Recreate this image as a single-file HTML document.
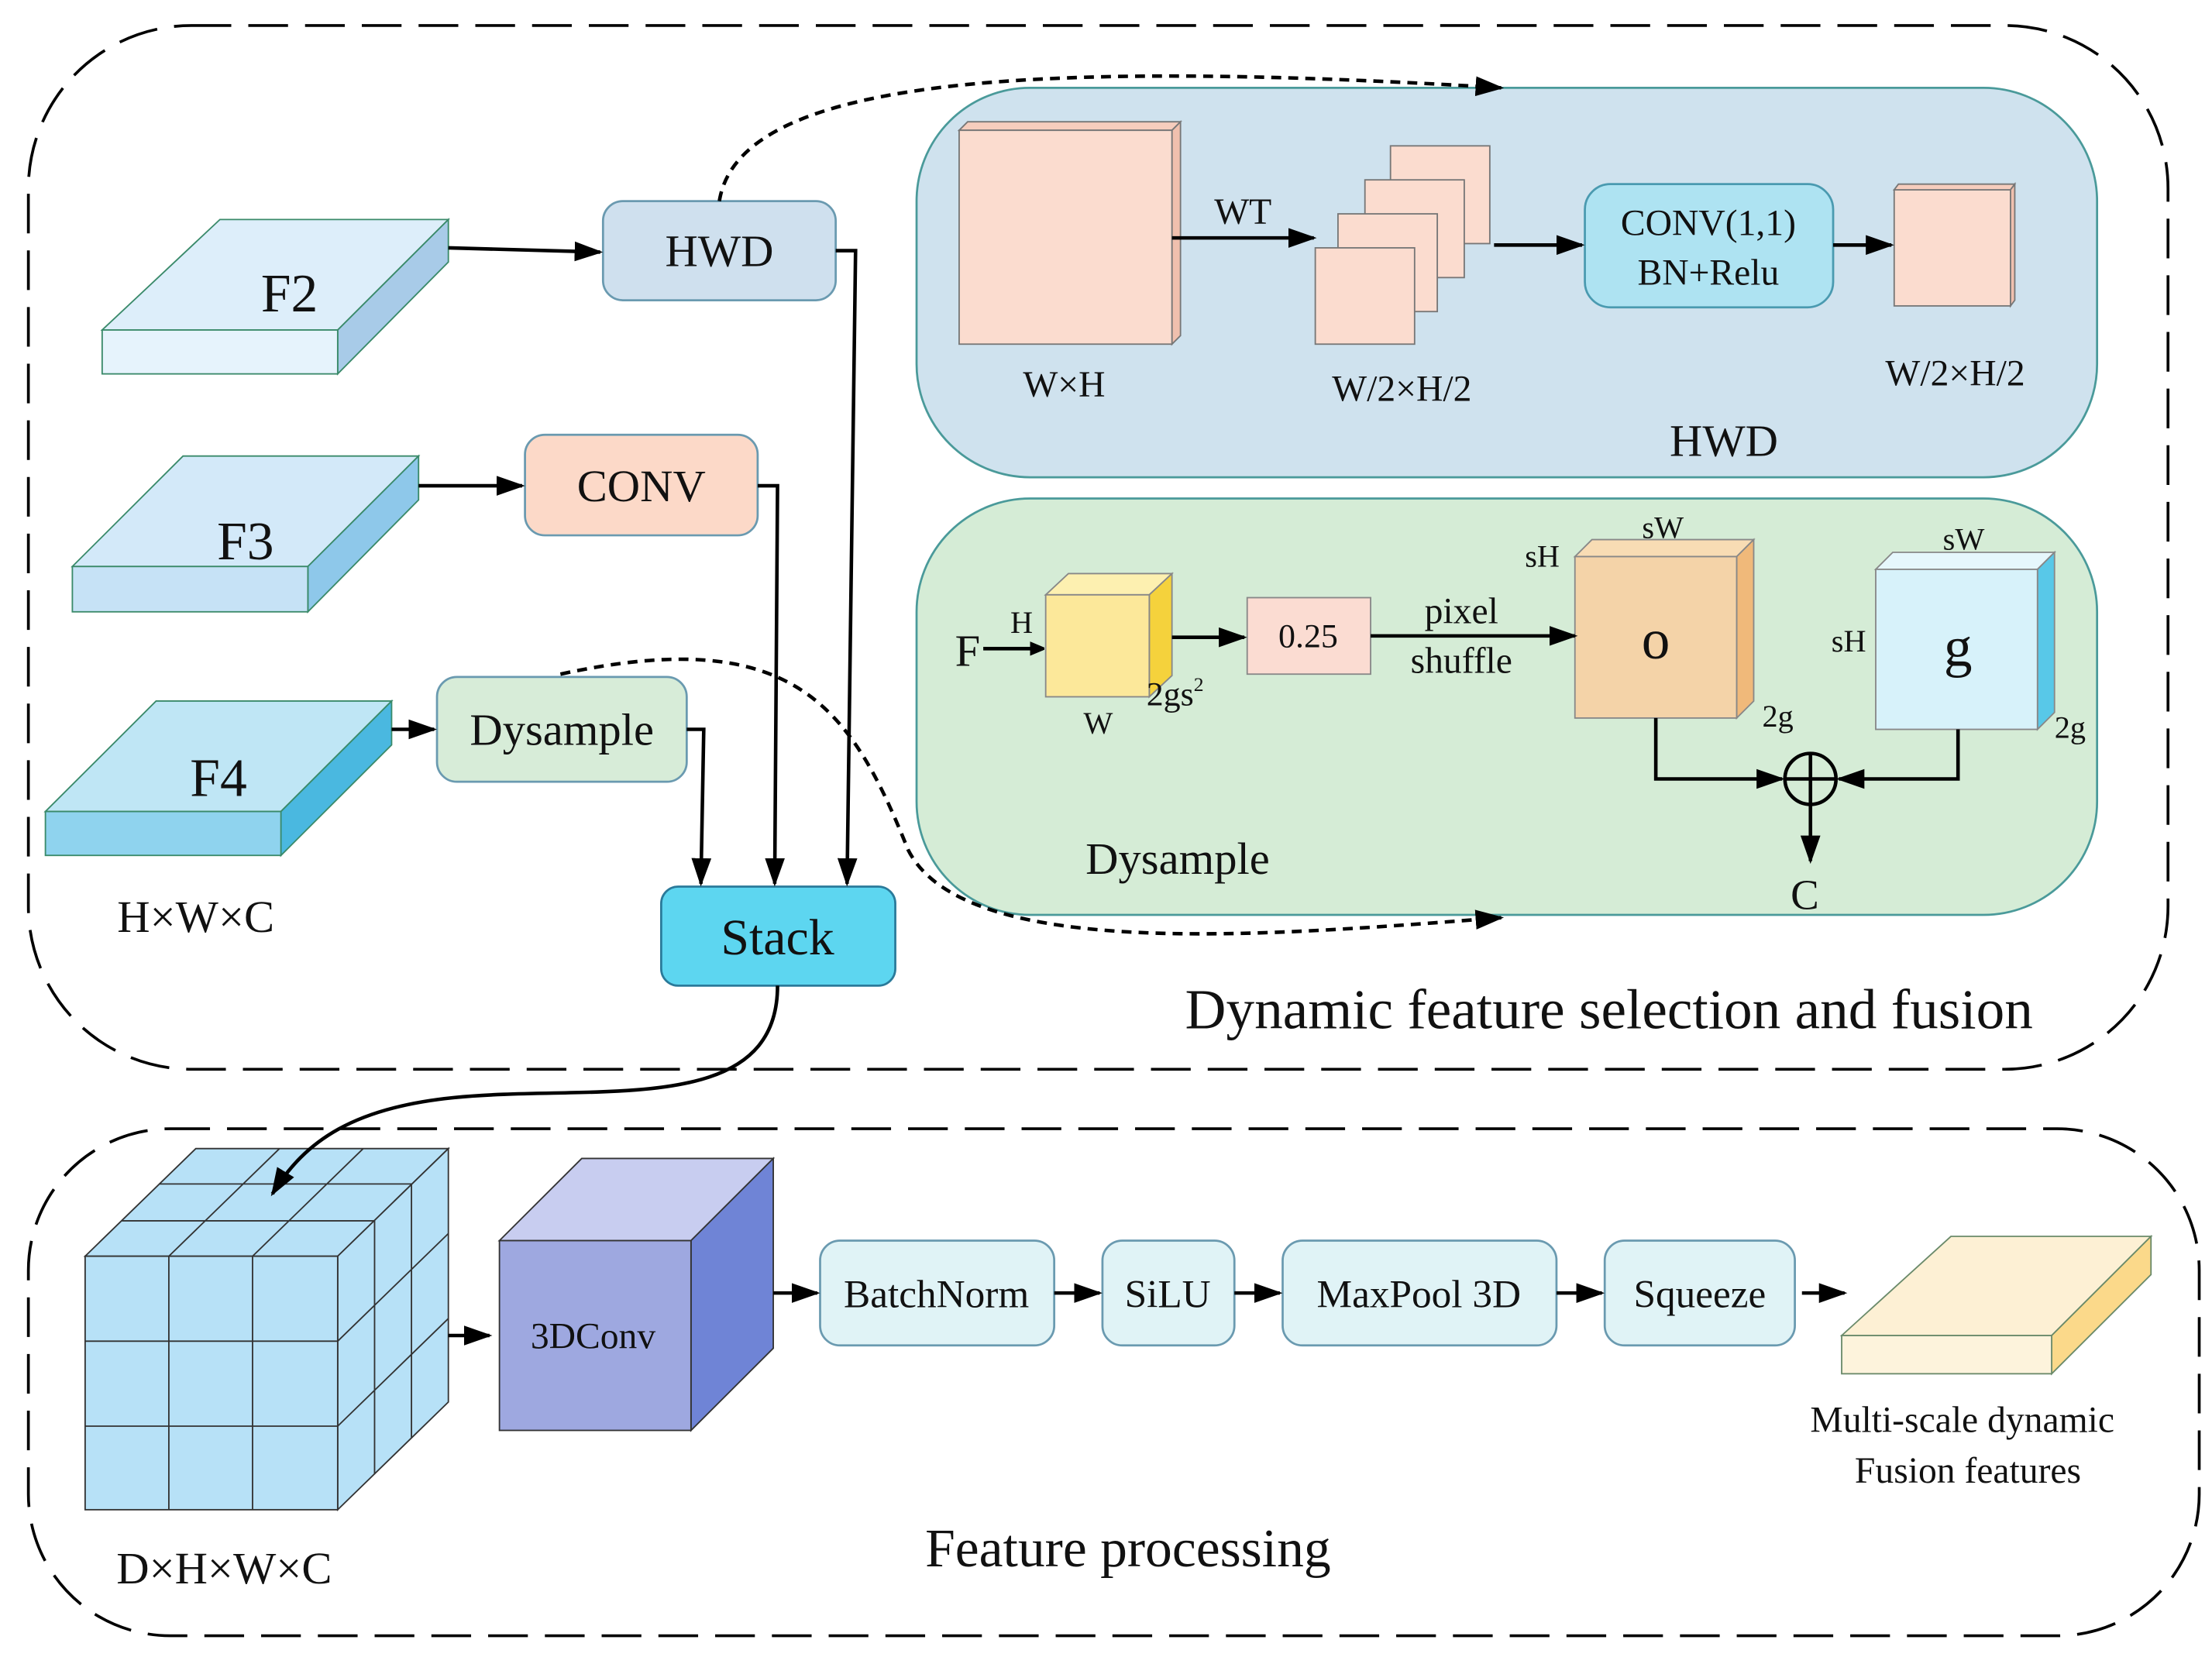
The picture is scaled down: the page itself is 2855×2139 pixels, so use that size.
<!DOCTYPE html>
<html><head><meta charset="utf-8"><style>
html,body{margin:0;padding:0;background:#fff;}
svg{display:block;}
text{font-family:"Liberation Serif",serif;fill:#111;}
</style></head><body>
<svg width="2855" height="2139" viewBox="0 0 1559 1170" preserveAspectRatio="none" xmlns="http://www.w3.org/2000/svg">
<defs>
<marker id="a" markerWidth="10" markerHeight="10" refX="9" refY="5" orient="auto" markerUnits="userSpaceOnUse"><path d="M0,0 L12,5 L0,10 z" fill="#000"/></marker>
<marker id="b" markerWidth="20" markerHeight="14" refX="18" refY="7" orient="auto" markerUnits="userSpaceOnUse"><path d="M0,0 L20,7 L0,14 z" fill="#000"/></marker>
</defs>
<rect x="20" y="18" width="1508" height="737" rx="115" fill="none" stroke="#000" stroke-width="2" stroke-dasharray="28,12"/>
<rect x="20" y="797" width="1530" height="358" rx="100" fill="none" stroke="#000" stroke-width="2" stroke-dasharray="28,12"/>

<rect x="646" y="62" width="832" height="275" rx="80" fill="#cfe2ee" stroke="#4a9a9a" stroke-width="1.5"/>
<rect x="646" y="352" width="832" height="294" rx="80" fill="#d5ecd6" stroke="#4a9a9a" stroke-width="1.5"/>

<g stroke="#3a8a6a" stroke-width="1">
<polygon points="72,233 155,155 316,155 238,233" fill="#ddeefa"/>
<polygon points="238,233 316,155 316,185 238,264" fill="#a8cbe8"/>
<rect x="72" y="233" width="166" height="31" fill="#e6f3fc"/>
<polygon points="51,400 129,322 295,322 217,400" fill="#d3e9f9"/>
<polygon points="217,400 295,322 295,353 217,432" fill="#8ec8ea"/>
<rect x="51" y="400" width="166" height="32" fill="#c6e2f6"/>
<polygon points="32,573 110,495 276,495 198,573" fill="#bfe6f5"/>
<polygon points="198,573 276,495 276,526 198,604" fill="#4ab8e0"/>
<rect x="32" y="573" width="166" height="31" fill="#8fd3ee"/>
</g>
<text x="204" y="220" font-size="38" text-anchor="middle">F2</text>
<text x="173" y="395" font-size="38" text-anchor="middle">F3</text>
<text x="154" y="562" font-size="38" text-anchor="middle">F4</text>
<text x="138" y="658" font-size="32" text-anchor="middle">H×W×C</text>

<rect x="425" y="142" width="164" height="70" rx="14" fill="#cfe0ee" stroke="#6a9ab0" stroke-width="1.5"/>
<text x="507" y="188" font-size="32" text-anchor="middle">HWD</text>
<rect x="370" y="307" width="164" height="71" rx="14" fill="#fcd9c8" stroke="#6a9ab0" stroke-width="1.5"/>
<text x="452" y="354" font-size="32" text-anchor="middle">CONV</text>
<rect x="308" y="478" width="176" height="74" rx="14" fill="#d7ecd8" stroke="#6a9ab0" stroke-width="1.5"/>
<text x="396" y="526" font-size="32" text-anchor="middle">Dysample</text>
<rect x="466" y="626" width="165" height="70" rx="12" fill="#5dd6f0" stroke="#2a7a9a" stroke-width="1.5"/>
<text x="548" y="674" font-size="36" text-anchor="middle">Stack</text>

<g stroke="#000" stroke-width="2.5" fill="none">
<path d="M316,175 L423,178" marker-end="url(#b)"/>
<path d="M295,343 L368,343" marker-end="url(#b)"/>
<path d="M276,515 L306,515" marker-end="url(#b)"/>
<path d="M589,177 L603,177 L597,624" marker-end="url(#b)"/>
<path d="M534,343 L548,343 L546,624" marker-end="url(#b)"/>
<path d="M484,515 L496,515 L494,624" marker-end="url(#b)"/>
</g>
<g stroke="#000" stroke-width="2.5" fill="none" stroke-dasharray="7,5">
<path d="M507,142 C520,60 700,40 1058,62" marker-end="url(#b)"/>
<path d="M395,476 C560,440 600,500 640,600 C680,680 900,660 1058,648" marker-end="url(#b)"/>
</g>

<g stroke="#777" stroke-width="1">
<polygon points="676,92 682,86 832,86 826,92" fill="#f6cdbd"/>
<polygon points="826,92 832,86 832,237 826,243" fill="#f0c0ae"/>
<rect x="676" y="92" width="150" height="151" fill="#fbdccf"/>
<g fill="#fbdccf">
<rect x="980" y="103" width="70" height="69"/>
<rect x="962" y="127" width="70" height="69"/>
<rect x="943" y="151" width="70" height="69"/>
<rect x="927" y="175" width="70" height="68"/>
<rect x="1335" y="134" width="82" height="82"/>
</g>
<polygon points="1335,134 1338,130 1420,130 1417,134" fill="#f6cdbd"/>
<polygon points="1417,134 1420,130 1420,212 1417,216" fill="#f0c0ae"/>
</g>
<text x="750" y="280" font-size="26" text-anchor="middle">W×H</text>
<text x="876" y="158" font-size="26" text-anchor="middle">WT</text>
<text x="988" y="283" font-size="26" text-anchor="middle">W/2×H/2</text>
<text x="1378" y="272" font-size="26" text-anchor="middle">W/2×H/2</text>
<text x="1215" y="322" font-size="32" text-anchor="middle">HWD</text>
<rect x="1117" y="130" width="175" height="87" rx="18" fill="#aee3f2" stroke="#4a9ab0" stroke-width="1.5"/>
<text x="1204" y="166" font-size="26" text-anchor="middle">CONV(1,1)</text>
<text x="1204" y="201" font-size="26" text-anchor="middle">BN+Relu</text>
<g stroke="#000" stroke-width="2.5" fill="none">
<path d="M826,168 L926,168" marker-end="url(#b)"/>
<path d="M1053,173 L1115,173" marker-end="url(#b)"/>
<path d="M1292,173 L1333,173" marker-end="url(#b)"/>
</g>

<text x="682" y="470" font-size="32" text-anchor="middle">F</text>
<text x="720" y="447" font-size="22" text-anchor="middle">H</text>
<g stroke="#888" stroke-width="1">
<polygon points="737,420 753,405 826,405 810,420" fill="#fdf0b0"/>
<polygon points="810,420 826,405 826,477 810,492" fill="#f5d23c"/>
<rect x="737" y="420" width="73" height="72" fill="#fce89a"/>
<rect x="879" y="422" width="87" height="54" fill="#fbdcd2"/>
<polygon points="1110,393 1122,381 1236,381 1224,393" fill="#f8dcb4"/>
<polygon points="1224,393 1236,381 1236,495 1224,507" fill="#f0b97a"/>
<rect x="1110" y="393" width="114" height="114" fill="#f4d3a8"/>
<polygon points="1322,402 1334,390 1448,390 1436,402" fill="#e6f7fc"/>
<polygon points="1436,402 1448,390 1448,503 1436,515" fill="#58c8e8"/>
<rect x="1322" y="402" width="114" height="113" fill="#d7f2fa"/>
</g>
<text x="774" y="518" font-size="22" text-anchor="middle">W</text>
<text x="808" y="498" font-size="24">2gs<tspan font-size="14" dy="-10">2</tspan></text>
<text x="922" y="457" font-size="24" text-anchor="middle">0.25</text>
<text x="1030" y="440" font-size="26" text-anchor="middle">pixel</text>
<text x="1030" y="475" font-size="26" text-anchor="middle">shuffle</text>
<text x="1167" y="465" font-size="40" text-anchor="middle">o</text>
<text x="1172" y="380" font-size="22" text-anchor="middle">sW</text>
<text x="1087" y="400" font-size="22" text-anchor="middle">sH</text>
<text x="1253" y="513" font-size="22" text-anchor="middle">2g</text>
<text x="1380" y="470" font-size="40" text-anchor="middle">g</text>
<text x="1384" y="388" font-size="22" text-anchor="middle">sW</text>
<text x="1303" y="460" font-size="22" text-anchor="middle">sH</text>
<text x="1459" y="521" font-size="22" text-anchor="middle">2g</text>
<text x="830" y="617" font-size="32" text-anchor="middle">Dysample</text>
<text x="1272" y="642" font-size="30" text-anchor="middle">C</text>
<g stroke="#000" stroke-width="2.5" fill="none">
<path d="M693,458 L735,458" marker-end="url(#a)"/>
<path d="M826,450 L877,450" marker-end="url(#b)"/>
<path d="M966,449 L1110,449" marker-end="url(#b)"/>
<path d="M1167,507 L1167,550 L1256,550" marker-end="url(#b)"/>
<path d="M1380,515 L1380,550 L1296,550" marker-end="url(#b)"/>
<path d="M1276,568 L1276,608" marker-end="url(#b)"/>
<circle cx="1276" cy="550" r="18" fill="none"/>
<path d="M1258,550 L1294,550 M1276,532 L1276,568"/>
</g>
<text x="1134" y="726" font-size="40" text-anchor="middle">Dynamic feature selection and fusion</text>

<g stroke="#333" stroke-width="1">
<polygon points="60,887 138,811 316,811 238,887" fill="#b7e1f7"/>
<polygon points="238,887 316,811 316,990 238,1066" fill="#b7e1f7"/>
<rect x="60" y="887" width="178" height="179" fill="#b7e1f7"/>
<path d="M119,887 V1066 M178,887 V1066 M60,947 H238 M60,1007 H238" fill="none"/>
<path d="M86,862 H264 M112,836 H290 M119,887 L197,811 M178,887 L256,811" fill="none"/>
<path d="M264,862 V1041 M290,836 V1015 M238,947 L316,871 M238,1007 L316,931" fill="none"/>
<polygon points="352,876 410,818 545,818 487,876" fill="#c8cdf0"/>
<polygon points="487,876 545,818 545,952 487,1010" fill="#6f84d6"/>
<rect x="352" y="876" width="135" height="134" fill="#9ea8e0"/>
</g>
<path d="M548,696 C548,790 420,765 320,775 C250,782 215,805 192,843" stroke="#000" stroke-width="2.5" fill="none" marker-end="url(#b)"/>
<text x="158" y="1118" font-size="32" text-anchor="middle">D×H×W×C</text>
<text x="418" y="952" font-size="26" text-anchor="middle">3DConv</text>
<g fill="#e0f3f6" stroke="#6a9ab0" stroke-width="1.5">
<rect x="578" y="876" width="165" height="74" rx="14"/>
<rect x="777" y="876" width="93" height="74" rx="14"/>
<rect x="904" y="876" width="193" height="74" rx="14"/>
<rect x="1131" y="876" width="134" height="74" rx="14"/>
</g>
<text x="660" y="923" font-size="28" text-anchor="middle">BatchNorm</text>
<text x="823" y="923" font-size="28" text-anchor="middle">SiLU</text>
<text x="1000" y="923" font-size="28" text-anchor="middle">MaxPool 3D</text>
<text x="1198" y="923" font-size="28" text-anchor="middle">Squeeze</text>
<g stroke="#000" stroke-width="2.5" fill="none">
<path d="M316,943 L345,943" marker-end="url(#b)"/>
<path d="M545,913 L576,913" marker-end="url(#b)"/>
<path d="M743,913 L775,913" marker-end="url(#b)"/>
<path d="M870,913 L902,913" marker-end="url(#b)"/>
<path d="M1097,913 L1129,913" marker-end="url(#b)"/>
<path d="M1270,913 L1300,913" marker-end="url(#b)"/>
</g>
<g stroke="#6a8a6a" stroke-width="1">
<polygon points="1298,943 1375,873 1516,873 1446,943" fill="#fdf0d4"/>
<polygon points="1446,943 1516,873 1516,900 1446,970" fill="#fbd98a"/>
<rect x="1298" y="943" width="148" height="27" fill="#fdf3dc"/>
</g>
<text x="1383" y="1011" font-size="26" text-anchor="middle">Multi-scale dynamic</text>
<text x="1387" y="1047" font-size="26" text-anchor="middle">Fusion features</text>
<text x="795" y="1106" font-size="38" text-anchor="middle">Feature processing</text>
</svg>
</body></html>
